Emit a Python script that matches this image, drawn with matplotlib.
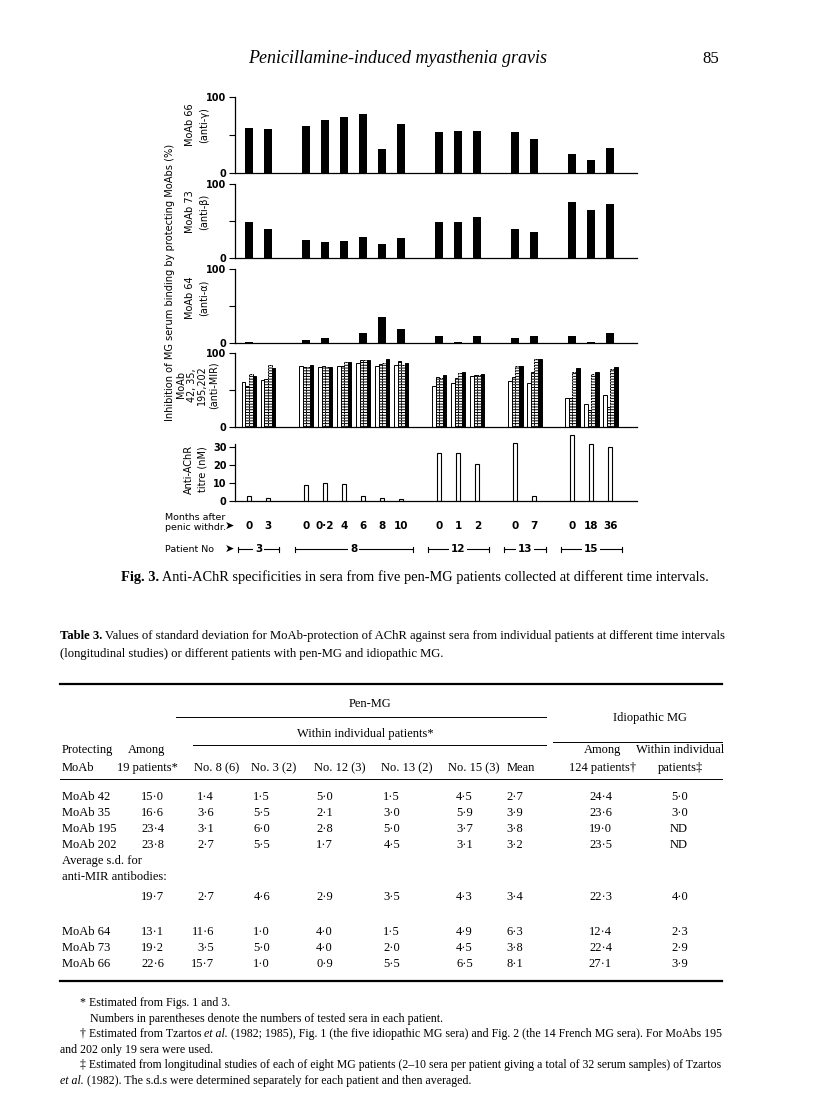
import matplotlib
matplotlib.use("Agg")
from matplotlib import pyplot as plt
import numpy as np

# ---- figure data ----
patients = ["3", "8", "12", "13", "15"]
group_sizes = [2, 6, 3, 2, 3]
months = ["0", "3", "0", "0·2", "4", "6", "8", "10", "0", "1", "2", "0", "7", "0", "18", "36"]

moab66 = [59, 57, 62, 70, 74, 78, 31, 64, 53, 55, 55, 54, 44, 25, 17, 33]
moab73 = [48, 39, 24, 22, 23, 29, 19, 27, 48, 48, 55, 39, 35, 76, 65, 73]
moab64 = [2, 0.5, 4, 7, 0.5, 14, 35, 19, 9, 0.8, 9, 7, 10, 9, 1, 14]

mir42 = [61, 63, 82, 81, 83, 86, 82, 84, 55, 60, 69, 62, 60, 39, 31, 43]
mir35 = [55, 65, 81, 82, 82, 90, 85, 89, 68, 66, 70, 68, 75, 39, 23, 27]
mir195 = [72, 84, 81, 81, 88, 90, 87, 84, 66, 73, 70, 82, 92, 74, 71, 79]
mir202 = [69, 80, 84, 81, 88, 91, 92, 87, 70, 74, 71, 83, 92, 80, 75, 81]

titre = [2.7, 1.8, 8.8, 10.2, 9.5, 2.7, 1.4, 1.1, 26.4, 26.4, 20.6, 32, 3, 36.7, 31.5, 29.8]

# ---- table data ----
col_heads = ["No. 8 (6)", "No. 3 (2)", "No. 12 (3)", "No. 13 (2)", "No. 15 (3)", "Mean"]
rows_mir = ["MoAb 42", "MoAb 35", "MoAb 195", "MoAb 202"]
vals_mir = [
    [15.0, 1.4, 1.5, 5.0, 1.5, 4.5, 2.7, 24.4, 5.0],
    [16.6, 3.6, 5.5, 2.1, 3.0, 5.9, 3.9, 23.6, 3.0],
    [23.4, 3.1, 6.0, 2.8, 5.0, 3.7, 3.8, 19.0, None],
    [23.8, 2.7, 5.5, 1.7, 4.5, 3.1, 3.2, 23.5, None],
]
vals_avg = [19.7, 2.7, 4.6, 2.9, 3.5, 4.3, 3.4, 22.3, 4.0]
rows_other = ["MoAb 64", "MoAb 73", "MoAb 66"]
vals_other = [
    [13.1, 11.6, 1.0, 4.0, 1.5, 4.9, 6.3, 12.4, 2.3],
    [19.2, 3.5, 5.0, 4.0, 2.0, 4.5, 3.8, 22.4, 2.9],
    [22.6, 15.7, 1.0, 0.9, 5.5, 6.5, 8.1, 27.1, 3.9],
]

W, H = 816, 1093
SERIF = "Liberation Serif"
SANS = "DejaVu Sans"
plt.rcParams['hatch.linewidth'] = 0.7


def fmt(v):
    if v is None:
        return "ND"
    return ("%.1f" % v).replace(".", "·")


def bar_positions():
    xs = []
    start = 0
    for n in group_sizes:
        xs.extend(range(start, start + n))
        start += n + 1
    return np.array(xs, dtype=float)


def panel(fig, top, bottom):
    ax = fig.add_axes([235 / W, 1 - bottom / H, (637 - 235) / W, (bottom - top) / H])
    ax.set_xlim(-0.74, 20.4)
    ax.spines['top'].set_visible(False)
    ax.spines['right'].set_visible(False)
    ax.set_xticks([])
    ax.tick_params(axis='y', direction='out', length=4, width=0.8, labelsize=7, pad=2)
    for s in ax.spines.values():
        s.set_linewidth(0.9)
    return ax


def pct_panel(ax):
    ax.set_ylim(0, 100)
    ax.set_yticks([0, 50, 100])
    ax.set_yticklabels(["0", "", "100"], fontweight='bold', family=SANS)


def rich(ax, x, y, parts, size):
    # parts: list of (text, style dict); placed one after the other on a line
    prev = None
    for txt, kw in parts:
        if prev is None:
            prev = ax.text(x, y, txt, fontsize=size, family=SERIF, va='baseline', ha='left', **kw)
        else:
            prev = ax.annotate(txt, xy=(1, 0), xycoords=prev, fontsize=size, family=SERIF,
                               va='bottom', ha='left', **kw)
    return prev


fig = plt.figure(figsize=(W / 100, H / 100), dpi=100)
page = fig.add_axes([0, 0, 1, 1])
page.axis('off')
page.set_xlim(0, W)
page.set_ylim(H, 0)

# page header
page.text(398, 63, "Penicillamine-induced myasthenia gravis", fontsize=13, family=SERIF,
          style='italic', ha='center', va='baseline')
page.text(711, 63, "85", fontsize=12, family=SERIF, ha='center', va='baseline')

x = bar_positions()

# MoAb 66
ax1 = panel(fig, 97, 172.5)
pct_panel(ax1)
ax1.bar(x, moab66, width=0.42, color='black')

# MoAb 73
ax2 = panel(fig, 184, 258)
pct_panel(ax2)
ax2.bar(x, moab73, width=0.42, color='black')

# MoAb 64
ax3 = panel(fig, 269, 343)
pct_panel(ax3)
ax3.bar(x, moab64, width=0.42, color='black')

# anti-MIR MoAbs
ax4 = panel(fig, 353, 427)
pct_panel(ax4)
bw = 0.19
ax4.bar(x - 1.5 * bw, mir42, width=bw, facecolor='white', edgecolor='black', linewidth=0.7)
ax4.bar(x - 0.5 * bw, mir35, width=bw, facecolor='white', edgecolor='black', linewidth=0.7, hatch='------')
ax4.bar(x + 0.5 * bw, mir195, width=bw, facecolor='white', edgecolor='black', linewidth=0.7,
        hatch='------', linestyle=(0, (2, 1)))
ax4.bar(x + 1.5 * bw, mir202, width=bw, facecolor='black', edgecolor='black', linewidth=0.7)

# titre
ax5 = panel(fig, 433.5, 501)
ax5.set_ylim(0, 37.5)
ax5.spines['left'].set_bounds(0, 31.5)
ax5.set_yticks([0, 10, 20, 30])
ax5.set_yticklabels(["0", "10", "20", "30"], fontweight='bold', family=SANS)
ax5.bar(x, titre, width=0.22, facecolor='white', edgecolor='black', linewidth=0.8)

# panel labels
lab = dict(fontsize=7, family=SANS, rotation=90, ha='center', va='center', multialignment='center',
           linespacing=1.45)
page.text(197, 125, "MoAb 66\n(anti-γ)", **lab)
page.text(197, 212, "MoAb 73\n(anti-β)", **lab)
page.text(197, 298, "MoAb 64\n(anti-α)", **lab)
page.text(196, 469, "Anti-AChR\ntitre (nM)", **lab)
lab4 = dict(lab)
lab4.update(fontsize=6.9, linespacing=1.1)
page.text(197, 385, "MoAb\n42, 35,\n195,202\n(anti-MIR)", **lab4)
page.text(170, 282, "Inhibition of MG serum binding by protecting MoAbs (%)", fontsize=7.1,
          family=SANS, rotation=90, ha='center', va='center')

# months row
page.text(165, 517, "Months after", fontsize=6.8, family=SANS, ha='left', va='center')
page.text(165, 527, "penic withdr.", fontsize=6.8, family=SANS, ha='left', va='center')
page.text(229, 526, "➤", fontsize=8, family=SANS, ha='center', va='center')
tr = matplotlib.transforms.blended_transform_factory(ax5.transData, page.transData)
for xi, m in zip(x, months):
    page.text(xi, 526, m, transform=tr, fontsize=7.5, family=SANS, ha='center', va='center',
              fontweight='bold')

# patient row
page.text(165, 549, "Patient No", fontsize=6.8, family=SANS, ha='left', va='center')
page.text(229, 549, "➤", fontsize=8, family=SANS, ha='center', va='center')
i0 = 0
for p, n in zip(patients, group_sizes):
    a = x[i0] - 0.6
    b = x[i0 + n - 1] + 0.6
    i0 += n
    page.plot([a, b], [549, 549], color='black', lw=0.8, transform=tr)
    page.plot([a, a], [546.5, 551.5], color='black', lw=0.8, transform=tr)
    page.plot([b, b], [546.5, 551.5], color='black', lw=0.8, transform=tr)
    page.text((a + b) / 2, 549, p, transform=tr, fontsize=7.5, family=SANS, ha='center', va='center',
              fontweight='bold', bbox=dict(facecolor='white', edgecolor='none', pad=1.2))

# figure caption
rich(page, 121, 581, [("Fig. 3.", dict(fontweight='bold')),
                      (" Anti-AChR specificities in sera from five pen-MG patients collected at different time intervals.", {})],
     10.4)

# table caption
rich(page, 60, 639, [("Table 3.", dict(fontweight='bold')),
                     (" Values of standard deviation for MoAb-protection of AChR against sera from individual patients at different time intervals", {})],
     9.05)
page.text(60, 657, "(longitudinal studies) or different patients with pen-MG and idiopathic MG.",
          fontsize=9.05, family=SERIF, va='baseline')

# table rules
page.plot([60, 722], [684, 684], color='black', lw=1.6)
page.plot([176, 546], [717, 717], color='black', lw=0.7)
page.plot([193, 546], [745, 745], color='black', lw=0.7)
page.plot([553, 722], [742, 742], color='black', lw=0.7)
page.plot([60, 722], [779, 779], color='black', lw=0.7)
page.plot([60, 722], [981, 981], color='black', lw=1.6)

ts = 9.0
th = dict(fontsize=ts, family=SERIF, va='baseline')
page.text(370, 707, "Pen-MG", ha='center', **th)
page.text(650, 721, "Idiopathic MG", ha='center', **th)
page.text(365, 737, "Within individual patients*", ha='center', **th)
page.text(62, 753, "Protecting", ha='left', **th)
page.text(62, 771, "MoAb", ha='left', **th)
page.text(147, 753, "Among", ha='center', **th)
page.text(147, 771, "19 patients*", ha='center', **th)
head_x = [217, 274, 340, 407, 474, 521]
for hx, hname in zip(head_x, col_heads):
    page.text(hx, 771, hname, ha='center', **th)
page.text(603, 753, "Among", ha='center', **th)
page.text(603, 771, "124 patients†", ha='center', **th)
page.text(680, 753, "Within individual", ha='center', **th)
page.text(680, 771, "patients‡", ha='center', **th)

right_x = [164, 214, 270, 333, 400, 473, 523, 612, 688]


def table_row(y, name, vals):
    if name:
        page.text(62, y, name, ha='left', **th)
    for rx, v in zip(right_x, vals):
        page.text(rx, y, fmt(v), ha='right', **th)


ys = [800, 816, 832, 848]
for y, name, vals in zip(ys, rows_mir, vals_mir):
    table_row(y, name, vals)
page.text(62, 864, "Average s.d. for", ha='left', **th)
page.text(62, 880, "anti-MIR antibodies:", ha='left', **th)
table_row(900, None, vals_avg)
for y, name, vals in zip([935, 951, 967], rows_other, vals_other):
    table_row(y, name, vals)

# footnotes
fs = 8.6
page.text(80, 1006, "* Estimated from Figs. 1 and 3.", fontsize=fs, family=SERIF, va='baseline')
page.text(90, 1022, "Numbers in parentheses denote the numbers of tested sera in each patient.",
          fontsize=fs, family=SERIF, va='baseline')
rich(page, 80, 1037, [("† Estimated from Tzartos ", {}), ("et al.", dict(style='italic')),
                      (" (1982; 1985), Fig. 1 (the five idiopathic MG sera) and Fig. 2 (the 14 French MG sera). For MoAbs 195", {})],
     fs)
page.text(60, 1053, "and 202 only 19 sera were used.", fontsize=fs, family=SERIF, va='baseline')
rich(page, 80, 1068, [("‡ Estimated from longitudinal studies of each of eight MG patients (2–10 sera per patient giving a total of 32 serum samples) of Tzartos", {})],
     8.45)
rich(page, 60, 1084, [("et al.", dict(style='italic')),
                      (" (1982). The s.d.s were determined separately for each patient and then averaged.", {})],
     fs)

fig.savefig("out.png", dpi=100)
